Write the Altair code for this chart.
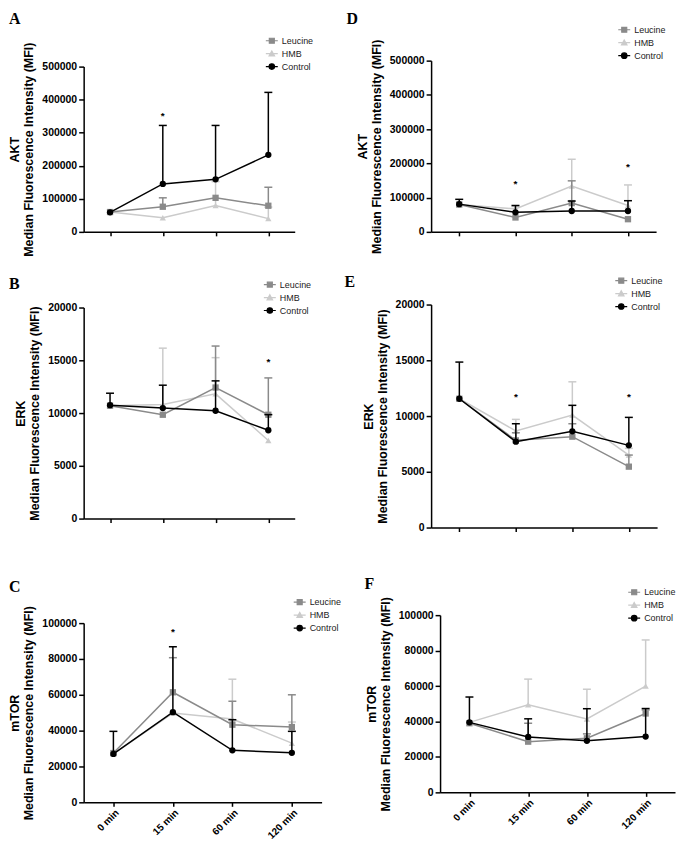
import altair as alt
import pandas as pd

TIMES = ["0 min", "15 min", "60 min", "120 min"]
GROUPS = ["Leucine", "HMB", "Control"]
COLORS = ["#8a8a8a", "#cbcbcb", "#000000"]
MARKER = {"Leucine": "square", "HMB": "triangle-up", "Control": "circle"}
DRAW_ORDER = ["HMB", "Leucine", "Control"]
# legend glyphs: short line with the marker on it
LEGEND_PATHS = [
    "M-1.2,0H1.2M-0.5,-0.5H0.5V0.5H-0.5Z",
    "M-1.2,0H1.2M0,-0.55L0.55,0.45H-0.55Z",
    "M-1.2,0H1.2M-0.55,0A0.55,0.55,0,1,1,0.55,0A0.55,0.55,0,1,1,-0.55,0Z",
]
YTITLE = "Median Fluorescence Intensity (MFI)"

# ---- A: AKT (left) ----
A_LEUCINE = [60000, 76000, 103000, 79000]
A_LEUCINE_TOP = [None, 103000, None, 135000]
A_HMB = [60000, 43000, 80000, 40000]
A_HMB_TOP = [None, None, 152000, 75000]
A_CONTROL = [59000, 145000, 159000, 233000]
A_CONTROL_TOP = [None, 322000, 322000, 422000]
A_STAR_T = ["15 min"]
A_STAR_Y = [352000]

# ---- B: ERK (left) ----
B_LEUCINE = [10700, 9840, 12420, 9840]
B_LEUCINE_TOP = [None, None, 16350, 13330]
B_HMB = [10700, 10820, 11820, 7400]
B_HMB_TOP = [None, 16150, 15250, None]
B_CONTROL = [10750, 10470, 10220, 8370]
B_CONTROL_TOP = [11880, 12640, 13050, 9850]
B_STAR_T = ["120 min"]
B_STAR_Y = [14800]

# ---- C: mTOR (left) ----
C_LEUCINE = [27500, 61400, 43300, 42000]
C_LEUCINE_TOP = [None, 80700, 56400, 60000]
C_HMB = [27000, 49800, 46500, 33000]
C_HMB_TOP = [None, None, 68700, 44800]
C_CONTROL = [27000, 50300, 29000, 27600]
C_CONTROL_TOP = [39600, 86800, 46100, 39600]
C_STAR_T = ["15 min"]
C_STAR_Y = [95200]

# ---- D: AKT (right) ----
D_LEUCINE = [80000, 42000, 84000, 37000]
D_LEUCINE_TOP = [None, None, 149000, None]
D_HMB = [80000, 67000, 134000, 77000]
D_HMB_TOP = [None, 74000, 212000, 137000]
D_CONTROL = [81000, 57000, 61000, 61000]
D_CONTROL_TOP = [95000, 77000, 90000, 91000]
D_STAR_T = ["15 min", "120 min"]
D_STAR_Y = [140000, 188000]

# ---- E: ERK (right) ----
E_LEUCINE = [11550, 7820, 8150, 5460]
E_LEUCINE_TOP = [None, 8500, 9310, 6500]
E_HMB = [11550, 8660, 10090, 6500]
E_HMB_TOP = [None, 9700, 13070, 7100]
E_CONTROL = [11550, 7700, 8630, 7370]
E_CONTROL_TOP = [14840, 9310, 10960, 9880]
E_STAR_T = ["15 min", "120 min"]
E_STAR_Y = [11730, 11730]

# ---- F: mTOR (right) ----
F_LEUCINE = [39000, 28600, 30500, 44500]
F_LEUCINE_TOP = [None, 39000, 33000, 46500]
F_HMB = [39500, 49400, 41400, 60000]
F_HMB_TOP = [None, 63900, 58200, 86000]
F_CONTROL = [39500, 31300, 29100, 31500]
F_CONTROL_TOP = [53800, 41500, 47200, 47300]
F_STAR_T = []
F_STAR_Y = []

W1, W2 = 349, 245
H1, H2, H3 = 222, 297, 276

PANELS = [
    dict(letter="A", protein="AKT", ymax=500000, step=100000,
         series=[(A_LEUCINE, A_LEUCINE_TOP), (A_HMB, A_HMB_TOP), (A_CONTROL, A_CONTROL_TOP)],
         stars=(A_STAR_T, A_STAR_Y), w=W1, h=H1, xr=[0, 212], yr=[222, 56], xoff=0, yoff=0,
         labels=False, leg=(183, 24), let=(-75, 0)),
    dict(letter="D", protein="AKT", ymax=500000, step=100000,
         series=[(D_LEUCINE, D_LEUCINE_TOP), (D_HMB, D_HMB_TOP), (D_CONTROL, D_CONTROL_TOP)],
         stars=(D_STAR_T, D_STAR_Y), w=W2, h=H1, xr=[0, 226], yr=[222, 50], xoff=0, yoff=0,
         labels=False, leg=(188, 13), let=(-85, 0)),
    dict(letter="B", protein="ERK", ymax=20000, step=5000,
         series=[(B_LEUCINE, B_LEUCINE_TOP), (B_HMB, B_HMB_TOP), (B_CONTROL, B_CONTROL_TOP)],
         stars=(B_STAR_T, B_STAR_Y), w=W1, h=H2, xr=[0, 212], yr=[288, 76], xoff=-9, yoff=0,
         labels=False, leg=(181, 47), let=(-75, 44)),
    dict(letter="E", protein="ERK", ymax=20000, step=5000,
         series=[(E_LEUCINE, E_LEUCINE_TOP), (E_HMB, E_HMB_TOP), (E_CONTROL, E_CONTROL_TOP)],
         stars=(E_STAR_T, E_STAR_Y), w=W2, h=H2, xr=[0, 227], yr=[297, 73], xoff=0, yoff=0,
         labels=False, leg=(185, 43), let=(-87, 42)),
    dict(letter="C", protein="mTOR", ymax=100000, step=20000,
         series=[(C_LEUCINE, C_LEUCINE_TOP), (C_HMB, C_HMB_TOP), (C_CONTROL, C_CONTROL_TOP)],
         stars=(C_STAR_T, C_STAR_Y), w=W1, h=H3, xr=[0, 239], yr=[276, 96], xoff=0, yoff=0,
         labels=True, leg=(211, 69), let=(-75, 52)),
    dict(letter="F", protein="mTOR", ymax=100000, step=20000,
         series=[(F_LEUCINE, F_LEUCINE_TOP), (F_HMB, F_HMB_TOP), (F_CONTROL, F_CONTROL_TOP)],
         stars=(F_STAR_T, F_STAR_Y), w=W2, h=H3, xr=[9, 245], yr=[266, 88], xoff=-10, yoff=-9,
         labels=True, leg=(198, 59), let=(-67, 49)),
]

FONT = "Liberation Sans"


def build_panel(p):
    rows = []
    for g, (means, tops) in zip(GROUPS, p["series"]):
        for t, m, u in zip(TIMES, means, tops):
            rows.append({"time": t, "group": g, "mean": m, "upper": u})
    df = pd.DataFrame(rows)

    xscale = alt.Scale(type="point", domain=TIMES, padding=0.5, range=p["xr"])
    yscale = alt.Scale(domain=[0, p["ymax"]], nice=False, zero=True, range=p["yr"])
    xaxis = alt.Axis(
        title=None, labels=p["labels"], labelAngle=-45, labelFont=FONT, labelFontSize=10,
        labelFontWeight="bold", labelColor="black", labelPadding=1, domainColor="black",
        domainWidth=1.5, tickColor="black", tickWidth=1.5, tickSize=4, offset=p["xoff"], grid=False,
    )
    yaxis = alt.Axis(
        title=[p["protein"], YTITLE], values=list(range(0, p["ymax"] + 1, p["step"])), format="d",
        titleFont=FONT, titleFontSize=12.5, titleFontWeight="bold", titleColor="black",
        titleLineHeight=14, titlePadding=6, labelFont=FONT, labelFontSize=10.5,
        labelFontWeight="bold", labelColor="black", domainColor="black", domainWidth=1.5,
        tickColor="black", tickWidth=1.5, tickSize=5, offset=p["yoff"], grid=False,
    )

    def X():
        return alt.X("time:N", sort=TIMES, scale=xscale, axis=xaxis)

    def Y(field):
        return alt.Y(f"{field}:Q", scale=yscale, axis=yaxis)

    layers = []
    for g in DRAW_ORDER:
        c = COLORS[GROUPS.index(g)]
        base = alt.Chart(df).transform_filter(alt.datum.group == g)
        layers.append(base.mark_rule(color=c, strokeWidth=1.5).encode(x=X(), y=Y("mean"), y2="upper:Q"))
        layers.append(base.mark_tick(color=c, thickness=1.5, size=8, orient="horizontal", opacity=1)
                      .encode(x=X(), y=Y("upper")))
        layers.append(base.mark_line(color=c, strokeWidth=1.5).encode(x=X(), y=Y("mean")))
        layers.append(base.mark_point(filled=True, shape=MARKER[g], size=40, color=c, opacity=1)
                      .encode(x=X(), y=Y("mean")))

    st, sy = p["stars"]
    if st:
        sdf = pd.DataFrame({"time": st, "y": sy})
        layers.append(alt.Chart(sdf).mark_text(text="*", fontSize=10, fontWeight="bold", color="black",
                                               baseline="middle", font=FONT)
                      .encode(x=X(), y=Y("y")))

    ldf = pd.DataFrame({"label": [p["letter"]]})
    layers.append(alt.Chart(ldf).mark_text(align="left", baseline="top", font="Liberation Serif",
                                           fontSize=16, fontWeight="bold", color="black")
                  .encode(x=alt.value(p["let"][0]), y=alt.value(p["let"][1]), text="label:N"))

    leg = alt.Legend(title=None, orient="none", legendX=p["leg"][0], legendY=p["leg"][1],
                     labelFont=FONT, labelFontSize=9, labelColor="#222222", symbolSize=100,
                     symbolStrokeWidth=1.2, symbolOpacity=1, rowPadding=2, labelOffset=4, padding=0)
    gdf = pd.DataFrame({"group": GROUPS})
    layers.append(alt.Chart(gdf).transform_filter("false").mark_point(filled=True, opacity=1).encode(
        fill=alt.Fill("group:N", scale=alt.Scale(domain=GROUPS, range=COLORS), legend=leg),
        stroke=alt.Stroke("group:N", scale=alt.Scale(domain=GROUPS, range=COLORS), legend=leg),
        shape=alt.Shape("group:N", scale=alt.Scale(domain=GROUPS, range=LEGEND_PATHS), legend=leg),
    ))

    return alt.layer(*layers).properties(width=p["w"], height=p["h"])


charts = [build_panel(p) for p in PANELS]

chart = (
    alt.concat(*charts, columns=2, spacing=0, bounds="flush")
    .resolve_scale(x="independent", y="independent", fill="independent",
                   stroke="independent", shape="independent")
    .resolve_legend(fill="independent", stroke="independent", shape="independent")
    .properties(padding=0, background="white")
    .configure_view(stroke="transparent")
)

chart.save("out.html", embed_options={"renderer": "svg", "actions": False})
